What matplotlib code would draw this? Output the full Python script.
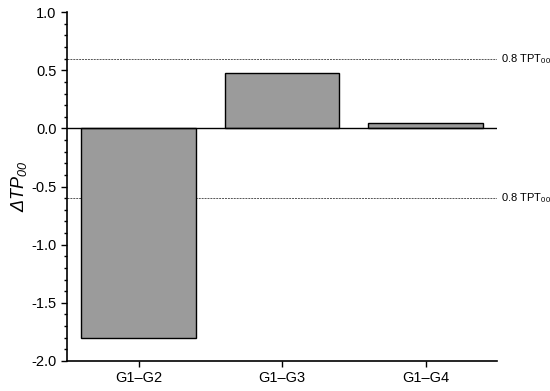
import numpy as np
import matplotlib
matplotlib.use('Agg')
import matplotlib.pyplot as plt
from matplotlib.ticker import MultipleLocator

plt.rcParams['font.family'] = ['Liberation Sans', 'DejaVu Sans']
plt.rcParams['mathtext.fontset'] = 'custom'
plt.rcParams['mathtext.rm'] = 'Liberation Sans'
plt.rcParams['mathtext.it'] = 'Liberation Sans:italic'
plt.rcParams['mathtext.sf'] = 'Liberation Sans:italic'

groups = ['G1–G2', 'G1–G3', 'G1–G4']
delta_tp = [-1.8, 0.48, 0.05]
threshold = 0.6

fig = plt.figure(figsize=(5.5, 3.91), dpi=100)
ax = fig.add_axes([0.122, 0.077, 0.782, 0.892])

x = np.arange(len(groups))
ax.bar(x, delta_tp, width=0.8, color='#9b9b9b', edgecolor='black', linewidth=1.0, zorder=2)

ax.axhline(0, color='black', linewidth=1.0, zorder=3)
for yv in (threshold, -threshold):
    ax.axhline(yv, color='#555555', linewidth=0.7, linestyle=(0, (2, 1)), zorder=1)
    ax.text(1.008, yv, r'0.8 TPT$_{\mathrm{00}}$', transform=ax.get_yaxis_transform(),
            va='center', ha='left', fontsize=8)

ax.set_xlim(-0.5, 2.5)
ax.set_ylim(-2.0, 1.0)
ax.set_xticks(x)
ax.set_xticklabels(groups)
ax.yaxis.set_major_locator(MultipleLocator(0.5))
ax.yaxis.set_minor_locator(MultipleLocator(0.1))
ax.set_yticks(np.arange(-2.0, 1.01, 0.5))
ax.set_yticklabels(['%.1f' % v for v in np.arange(-2.0, 1.01, 0.5)])

ax.spines['top'].set_visible(False)
ax.spines['right'].set_visible(False)
ax.spines['left'].set_linewidth(1.2)
ax.spines['bottom'].set_linewidth(1.2)
ax.tick_params(axis='both', which='major', direction='out', length=4, width=1.0, labelsize=10.5)
ax.tick_params(axis='y', which='minor', direction='out', length=2.5, width=1.0)

ax.set_ylabel('ΔTP$_{\\mathsf{00}}$', fontsize=13, fontstyle='italic', labelpad=2)

fig.savefig('out.png', dpi=100)
